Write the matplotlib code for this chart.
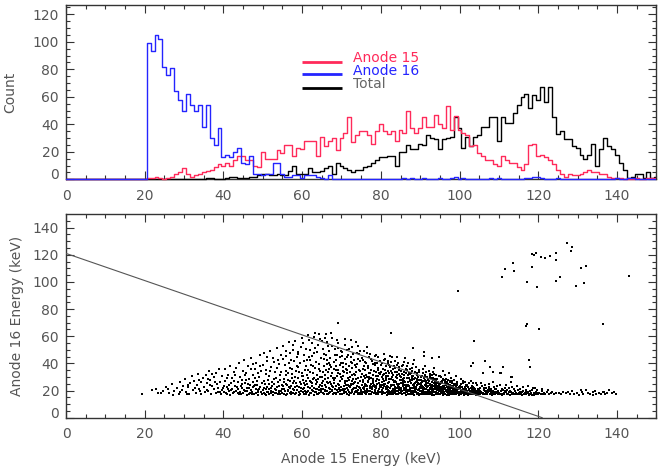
import numpy as np
import matplotlib
matplotlib.use("Agg")
import matplotlib.pyplot as plt
from matplotlib.patches import Rectangle
from matplotlib.transforms import ScaledTranslation

# ---- histogram (1 keV bins, centred on integer energies) ----
energy_bins = np.arange(0, 151)

counts_anode15 = [0] * 20 + [
    0, 1, 1, 2, 1, 0, 1, 2, 4, 5,
    8, 4, 2, 3, 4, 5, 6, 7, 9, 11,
    10, 12, 10, 14, 17, 17, 14, 14, 10, 9,
    20, 15, 15, 15, 21, 19, 25, 25, 17, 23,
    22, 28, 28, 28, 17, 31, 24, 28, 30, 21,
    30, 34, 45, 27, 32, 35, 35, 32, 26, 35,
    40, 35, 33, 35, 28, 36, 34, 50, 37, 34,
    37, 45, 38, 38, 47, 40, 37, 53, 36, 46,
    36, 34, 32, 24, 25, 19, 17, 14, 14, 11,
    10, 17, 14, 12, 12, 9, 7, 11, 25, 26,
    17, 18, 16, 14, 11, 7, 4, 2, 4, 3,
    3, 4, 5, 7, 5, 5, 4, 4, 2, 1,
    1, 1, 0, 0, 0, 1, 0, 0, 1, 1,
    1]

counts_anode16 = [0] * 20 + [
    0, 99, 93, 105, 102, 82, 76, 81, 64, 58,
    50, 62, 54, 50, 54, 38, 54, 30, 25, 37,
    16, 18, 16, 20, 23, 12, 11, 17, 4, 4,
    3, 4, 4, 12, 12, 4, 2, 2, 3, 3,
    1, 3, 3, 3, 2, 1, 0, 3, 0, 0,
    0, 0, 0, 0, 0, 0, 0, 0, 0, 0,
    0, 0, 0, 0, 0, 0, 1, 0, 1, 0,
    0, 1, 0, 0, 0, 1, 0, 0, 1, 2,
    0, 1, 0, 0, 0, 0, 0, 0, 1, 0,
    1, 0, 0, 0, 0, 0, 0, 1, 1, 2,
    2, 1, 0, 0, 0, 1, 0, 0, 0, 0,
    0, 0, 0, 0, 0, 0, 0, 0, 0, 0,
    1, 0, 0, 1, 1, 0, 0, 0, 0, 0,
    0]

counts_total = [0] * 20 + [
    0, 0, 0, 0, 0, 0, 0, 0, 0, 0,
    0, 0, 0, 0, 0, 0, 1, 1, 0, 0,
    0, 1, 2, 2, 1, 1, 1, 2, 2, 3,
    4, 4, 3, 3, 4, 3, 3, 6, 10, 4,
    4, 4, 8, 5, 5, 6, 8, 10, 4, 12,
    10, 8, 7, 5, 7, 7, 9, 10, 12, 14,
    16, 16, 17, 17, 10, 20, 20, 25, 22, 22,
    26, 25, 32, 30, 29, 22, 29, 30, 31, 45,
    37, 23, 31, 24, 31, 32, 38, 38, 45, 45,
    28, 45, 41, 41, 48, 54, 60, 62, 52, 61,
    58, 67, 56, 67, 45, 33, 35, 29, 29, 24,
    23, 18, 15, 18, 26, 10, 22, 30, 24, 22,
    18, 12, 7, 1, 2, 4, 4, 1, 5, 1,
    2]

legend_labels = ["Anode 15", "Anode 16", "Total"]
colour_15 = "#ff2a5a"
colour_16 = "#2424ff"
colour_tot = "#000000"

# ---- scatter: (anode 15 energy, anode 16 energy) in keV ----
cloud_pts = [
    (19.2,17.5),(21.8,20.6),(22.9,21.0),(24.1,18.4),(24.6,19.8),(23.3,17.9),
    (25.4,22.3),(26.2,18.1),(26.9,24.6),(27.5,19.7),(28.1,21.9),(28.6,17.4),(29.0,26.3),(29.4,20.5),
    (29.8,23.4),(27.2,17.0),(25.9,20.9),(28.9,18.8),
    (30.2,28.7),(30.5,19.2),(30.9,22.6),(31.3,17.8),(31.6,25.9),(32.0,30.4),(32.2,20.7),(32.6,27.2),
    (33.0,18.3),(33.3,23.8),(33.5,31.9),(33.9,21.3),(34.2,17.1),(34.4,26.5),(34.8,29.6),(31.1,24.0),
    (32.9,22.1),(34.0,19.6),(30.7,17.5),(33.7,28.0),
    (35.1,22.9),(35.3,18.6),(35.6,31.4),(35.9,25.3),(36.2,19.9),(36.4,34.1),(36.7,27.8),(36.9,17.3),
    (37.2,23.5),(37.5,20.8),(37.7,29.9),(38.0,18.1),(38.2,33.2),(38.4,24.7),(38.7,21.6),(38.9,36.0),
    (39.2,26.4),(39.4,17.6),(39.6,30.8),(39.9,22.2),(35.8,20.4),(36.6,24.1),(37.9,26.0),(38.5,19.3),
    (39.1,18.9),(37.0,32.4),(39.7,20.1),(36.0,28.5),
    (40.1,19.0),(40.3,27.1),(40.5,35.7),(40.8,22.5),(41.0,17.4),(41.2,31.2),(41.5,24.3),(41.7,38.1),
    (41.9,20.6),(42.2,28.9),(42.4,17.9),(42.6,33.8),(42.9,23.1),(43.1,19.5),(43.3,36.9),(43.6,26.2),
    (43.8,21.4),(44.0,40.2),(44.3,30.1),(44.5,17.2),(44.7,24.9),(44.9,34.6),(40.6,18.4),(41.4,20.0),
    (42.0,25.6),(42.8,18.8),(43.4,22.9),(44.1,19.1),(44.6,27.7),(40.9,29.6),(41.8,16.9),(43.0,31.5),
    (43.9,17.8),(44.8,21.8),(42.3,20.9),(40.2,23.7),(41.1,21.2),(43.7,18.3),(44.4,23.3),(42.7,26.8),
    (45.0,18.2),(45.2,42.3),(45.4,25.4),(45.6,19.6),(45.8,33.0),(46.0,21.7),(46.2,38.4),(46.4,17.5),
    (46.6,28.3),(46.8,23.9),(47.0,44.1),(47.2,19.0),(47.4,31.7),(47.6,26.6),(47.8,17.1),(48.0,36.2),
    (48.2,21.0),(48.4,40.5),(48.6,24.4),(48.8,18.6),(49.0,29.8),(49.2,46.2),(49.4,22.6),(49.6,34.4),
    (49.8,17.7),(45.3,20.3),(45.9,17.0),(46.5,22.1),(47.1,20.5),(47.7,23.0),(48.3,18.0),(48.9,20.2),
    (49.5,19.1),(45.7,27.6),(46.9,35.8),(47.9,29.1),(48.7,32.6),(49.9,25.5),(46.1,19.4),(47.3,17.8),
    (48.1,24.0),(49.1,21.5),(45.5,31.3),(46.7,18.4),(47.5,22.8),(48.5,27.2),(49.3,38.0),(46.3,24.6),
    (48.9,16.9),(47.6,39.5),
    (50.1,20.4),(50.3,47.7),(50.4,27.3),(50.6,17.6),(50.8,35.1),(51.0,22.9),(51.1,41.8),(51.3,18.9),
    (51.5,30.6),(51.7,25.0),(51.8,49.3),(52.0,19.7),(52.2,37.4),(52.4,23.2),(52.5,16.8),(52.7,44.0),
    (52.9,28.5),(53.1,21.1),(53.2,33.9),(53.4,18.1),(53.6,51.2),(53.8,26.1),(54.0,39.6),(54.1,20.0),
    (54.3,31.8),(54.5,17.3),(54.7,46.4),(54.8,24.2),(50.2,18.3),(50.7,21.5),(51.2,19.0),(51.6,17.2),
    (52.1,22.0),(52.6,19.2),(53.0,17.9),(53.5,22.5),(54.2,18.7),(54.9,20.8),(50.5,24.8),(51.4,28.0),
    (52.3,26.3),(53.3,29.4),(54.4,27.5),(50.9,31.9),(51.9,34.3),(52.8,40.7),(53.7,36.5),(54.6,33.4),
    (50.0,38.9),(51.0,44.8),(53.9,42.3),(52.2,18.0),(53.3,20.6),(54.0,23.7),(50.8,16.9),(51.7,21.3),
    (52.9,24.5),(53.8,17.5),(54.6,19.4),(50.4,22.2),
    (55.0,18.5),(55.2,53.0),(55.3,28.7),(55.5,21.2),(55.7,39.1),(55.8,17.0),(56.0,45.3),(56.2,24.1),
    (56.3,32.9),(56.5,19.4),(56.7,55.6),(56.8,27.0),(57.0,21.8),(57.2,42.2),(57.3,17.7),(57.5,35.6),
    (57.7,25.7),(57.8,49.9),(58.0,20.1),(58.2,30.3),(58.3,56.8),(58.5,18.2),(58.7,38.0),(58.8,23.4),
    (59.0,46.9),(59.2,16.9),(59.3,33.3),(59.5,26.4),(59.7,52.4),(59.8,19.8),(55.1,23.3),(55.6,19.9),
    (56.1,17.4),(56.6,22.4),(57.1,19.1),(57.6,18.0),(58.1,22.9),(58.6,20.5),(59.1,18.8),(59.6,21.6),
    (55.4,26.0),(55.9,31.1),(56.4,28.1),(56.9,36.8),(57.4,29.6),(57.9,26.9),(58.4,34.7),(58.9,28.9),
    (59.4,40.4),(59.9,30.7),(55.2,43.4),(56.0,49.0),(57.0,47.5),(58.0,41.6),(59.0,37.1),(55.8,34.2),
    (56.7,40.0),(57.8,53.8),(58.7,44.6),(59.6,24.7),(55.5,17.5),(56.3,20.3),(57.2,23.6),(58.2,17.3),
    (59.3,22.3),(55.9,24.8),(56.9,17.9),(57.7,21.0),(58.5,25.3),(59.4,17.7),(57.4,32.0),(58.9,48.3),
    (60.0,58.9),(60.1,19.0),(60.3,27.8),(60.4,41.9),(60.6,22.2),(60.7,35.3),(60.9,17.2),(61.0,50.6),
    (61.2,24.6),(61.3,31.4),(61.5,61.0),(61.6,20.0),(61.8,44.7),(61.9,27.3),(62.1,18.1),(62.2,38.6),
    (62.4,55.1),(62.5,23.1),(62.7,33.0),(62.8,19.6),(63.0,47.3),(63.1,29.2),(63.3,62.3),(63.4,21.5),
    (63.6,40.9),(63.7,17.4),(63.9,26.0),(64.0,53.2),(64.2,35.9),(64.3,20.4),(64.5,58.0),(64.6,24.0),
    (64.8,43.8),(64.9,18.6),(60.2,21.0),(60.5,17.8),(60.8,24.4),(61.1,18.4),(61.4,22.7),(61.7,17.0),
    (62.0,21.9),(62.3,17.9),(62.6,25.9),(62.9,22.1),(63.2,18.7),(63.5,24.5),(63.8,20.8),(64.1,17.6),
    (64.4,22.9),(64.7,19.9),(60.3,30.9),(60.9,38.3),(61.5,29.5),(62.1,33.7),(62.7,28.4),(63.3,36.6),
    (63.9,31.2),(64.5,30.0),(60.6,46.5),(61.2,42.4),(61.9,49.8),(62.5,45.6),(63.2,51.4),(63.8,48.6),
    (64.4,39.5),(60.1,55.0),(61.8,57.3),(63.0,59.6),(64.2,62.0),(60.4,25.2),(61.0,27.1),(61.6,35.0),
    (62.2,26.5),(62.8,37.8),(63.4,27.6),(64.0,28.7),(64.6,34.1),(60.7,19.6),(61.3,18.9),(62.4,20.7),
    (63.1,16.9),(63.6,19.3),(64.3,18.0),(64.9,21.4),(62.0,42.8),(60.0,33.2),
    (65.0,23.6),(65.1,56.4),(65.3,18.3),(65.4,33.5),(65.6,47.0),(65.7,20.6),(65.9,28.6),(66.0,61.5),
    (66.2,39.2),(66.3,17.5),(66.5,25.7),(66.6,52.6),(66.8,21.9),(66.9,36.2),(67.1,44.0),(67.2,19.1),
    (67.4,30.5),(67.5,58.7),(67.7,23.7),(67.8,17.1),(68.0,41.0),(68.1,27.9),(68.3,50.4),(68.4,20.9),
    (68.6,34.8),(68.7,18.5),(68.9,45.9),(69.0,25.0),(69.2,55.2),(69.3,22.0),(69.5,38.7),(69.6,17.8),
    (69.8,29.7),(69.9,48.8),(65.2,21.1),(65.5,17.7),(65.8,19.9),(66.1,22.8),(66.4,19.4),(66.7,17.3),
    (67.0,21.2),(67.3,24.6),(67.6,19.8),(67.9,22.3),(68.2,18.0),(68.5,23.2),(68.8,20.1),(69.1,18.9),
    (69.4,21.5),(69.7,19.6),(65.3,27.0),(65.9,31.8),(66.5,29.3),(67.1,26.6),(67.7,32.7),(68.3,28.9),
    (68.9,31.0),(69.5,27.2),(65.6,37.9),(66.2,42.7),(66.8,40.3),(67.4,37.0),(68.0,35.6),(68.6,42.2),
    (69.2,35.0),(69.8,40.1),(65.4,50.8),(66.0,46.1),(66.9,49.3),(67.6,53.1),(68.3,46.5),(69.1,51.0),
    (69.7,44.6),(65.8,59.0),(67.3,62.1),(68.8,57.6),(66.4,55.5),(65.1,25.4),(65.7,24.3),(66.3,26.1),
    (66.9,18.2),(67.5,20.4),(68.1,25.9),(68.7,17.4),(69.3,24.0),(69.9,20.7),(65.0,30.2),(66.6,33.9),
    (67.8,29.5),(69.0,33.1),(65.5,43.3),(67.0,38.9),(68.5,38.2),(69.6,32.4),(66.1,35.5),
    (70.0,22.4),(70.1,48.1),(70.2,17.6),(70.4,31.0),(70.5,40.2),(70.6,19.8),(70.8,26.7),(70.9,53.6),
    (71.0,21.0),(71.2,36.1),(71.3,17.2),(71.4,44.5),(71.6,24.2),(71.7,29.4),(71.8,19.3),(72.0,50.9),
    (72.1,22.8),(72.2,34.0),(72.4,18.0),(72.5,41.3),(72.6,27.1),(72.8,20.5),(72.9,47.0),(73.0,24.9),
    (73.2,32.2),(73.3,17.4),(73.4,38.5),(73.6,21.7),(73.7,55.8),(73.8,28.8),(74.0,19.1),(74.1,43.6),
    (74.2,25.3),(74.4,35.4),(74.5,18.4),(74.6,49.4),(74.8,22.1),(74.9,30.3),(70.3,20.6),(70.7,23.5),
    (71.1,18.6),(71.5,21.8),(71.9,17.0),(72.3,24.6),(72.7,19.0),(73.1,22.0),(73.5,18.8),(73.9,23.3),
    (74.3,20.2),(74.7,17.7),(70.2,28.3),(70.6,33.6),(71.0,25.6),(71.4,32.7),(71.8,27.8),(72.2,29.9),
    (72.6,36.9),(73.0,28.2),(73.4,26.0),(73.8,33.5),(74.2,29.0),(74.6,27.4),(70.4,37.5),(70.8,43.1),
    (71.2,39.8),(71.6,46.0),(72.0,38.0),(72.4,44.4),(72.8,40.6),(73.2,42.8),(73.6,37.2),(74.0,39.3),
    (74.4,46.7),(74.8,41.7),(70.1,45.7),(71.3,50.0),(72.6,52.3),(73.9,47.8),(70.9,58.3),(72.3,56.9),
    (74.3,52.6),(70.5,21.5),(71.1,24.0),(71.7,20.3),(72.1,18.5),(72.9,21.3),(73.3,25.6),(73.7,19.6),
    (74.1,17.3),(74.9,19.9),(70.7,17.9),(71.9,23.0),(73.1,17.8),(74.5,22.7),(70.3,34.7),(71.5,35.3),
    (72.7,31.6),(73.5,31.1),(74.7,34.2),(71.3,27.0),(72.5,23.8),
    (75.0,20.3),(75.1,44.2),(75.2,17.5),(75.4,28.0),(75.5,35.7),(75.6,22.6),(75.8,18.9),(75.9,41.0),
    (76.0,25.1),(76.2,31.4),(76.3,17.1),(76.4,47.6),(76.6,21.4),(76.7,37.8),(76.8,27.3),(77.0,19.4),
    (77.1,33.1),(77.2,23.7),(77.4,43.0),(77.5,17.8),(77.6,29.6),(77.8,20.9),(77.9,39.2),(78.0,25.8),
    (78.2,18.2),(78.3,34.4),(78.4,45.4),(78.6,22.3),(78.7,30.7),(78.8,17.3),(79.0,40.6),(79.1,24.6),
    (79.2,19.8),(79.4,36.3),(79.5,27.9),(79.6,21.2),(79.8,42.1),(79.9,31.9),(75.3,19.3),(75.7,21.0),
    (76.1,18.1),(76.5,23.2),(76.9,17.6),(77.3,21.8),(77.7,18.6),(78.1,23.0),(78.5,19.0),(78.9,21.6),
    (79.3,17.4),(79.7,22.8),(75.1,24.4),(75.5,26.6),(75.9,29.1),(76.3,24.0),(76.7,26.1),(77.1,28.4),
    (77.5,25.0),(77.9,27.1),(78.3,24.3),(78.7,26.8),(79.1,28.8),(79.5,25.4),(79.9,23.9),(75.2,32.3),
    (75.6,38.3),(76.0,34.8),(76.4,30.0),(76.8,36.6),(77.2,32.9),(77.6,35.2),(78.0,31.3),(78.4,38.6),
    (78.8,33.8),(79.2,35.1),(79.6,32.7),(75.4,42.5),(76.2,40.1),(77.0,44.7),(77.8,41.7),(78.6,40.0),
    (79.4,44.9),(75.8,48.9),(77.3,47.2),(78.9,46.3),(76.6,52.0),(75.0,17.9),(75.4,22.0),(76.0,20.0),
    (76.6,18.7),(77.2,19.6),(77.8,22.5),(78.4,20.4),(79.0,18.4),(79.6,19.1),(75.7,30.6),(76.9,29.8),
    (78.1,28.2),(79.3,30.4),(76.4,19.5),(77.6,17.2),(78.8,23.5),(75.9,23.6),(77.4,24.8),
    (80.0,19.2),(80.1,38.9),(80.2,24.0),(80.3,17.4),(80.5,31.2),(80.6,21.6),(80.7,42.6),(80.9,27.0),
    (81.0,18.3),(81.1,35.5),(81.3,22.9),(81.4,29.3),(81.5,17.0),(81.7,40.1),(81.8,25.6),(81.9,20.2),
    (82.1,33.0),(82.2,18.8),(82.3,37.3),(82.5,23.4),(82.6,28.6),(82.7,17.7),(82.9,44.4),(83.0,21.0),
    (83.1,31.8),(83.3,26.2),(83.4,18.0),(83.5,36.5),(83.7,22.6),(83.8,29.9),(83.9,19.7),(84.1,39.0),
    (84.2,24.5),(84.3,17.3),(84.5,32.4),(84.6,21.3),(84.7,35.0),(84.9,27.6),(80.4,20.7),(80.8,18.0),
    (81.2,20.9),(81.6,23.1),(82.0,19.5),(82.4,21.8),(82.8,20.0),(83.2,17.6),(83.6,19.1),(84.0,22.0),
    (84.4,19.9),(84.8,17.9),(80.2,26.4),(80.6,28.8),(81.0,24.8),(81.4,27.7),(81.8,30.6),(82.2,26.0),
    (82.6,24.2),(83.0,28.0),(83.4,24.0),(83.8,26.5),(84.2,29.2),(84.6,25.0),(80.1,33.6),(80.5,36.0),
    (80.9,32.1),(81.3,37.8),(81.7,34.2),(82.1,38.5),(82.5,34.7),(82.9,32.8),(83.3,38.1),(83.7,33.4),
    (84.1,34.0),(84.5,37.4),(80.3,40.4),(81.1,43.3),(81.9,41.9),(82.7,40.7),(83.5,42.0),(84.3,40.0),
    (80.8,46.7),(82.4,45.2),(84.0,45.0),(80.0,22.3),(80.4,17.1),(80.9,23.5),(81.5,19.0),(81.9,22.4),
    (82.3,17.5),(82.9,23.8),(83.3,20.6),(83.9,17.1),(84.4,23.6),(84.9,20.3),(80.7,25.1),(81.6,21.5),
    (82.5,19.0),(83.5,21.2),(84.7,18.5),(81.2,30.9),(82.8,30.1),(84.2,31.3),(80.6,18.6),(81.8,17.8),
    (83.1,18.7),(84.6,22.8),(82.0,28.2),(83.6,27.2),(80.3,29.7),(81.4,33.1),(83.0,35.8),(84.8,30.6),
    (85.0,18.4),(85.1,34.7),(85.2,22.2),(85.3,28.1),(85.5,17.2),(85.6,38.6),(85.7,24.9),(85.8,20.4),
    (86.0,31.6),(86.1,17.9),(86.2,26.3),(86.4,35.9),(86.5,21.4),(86.6,18.8),(86.7,29.5),(86.9,23.5),
    (87.0,40.4),(87.1,19.6),(87.2,33.1),(87.4,17.5),(87.5,26.8),(87.6,22.0),(87.8,30.5),(87.9,18.3),
    (88.0,36.7),(88.1,24.1),(88.3,20.0),(88.4,28.4),(88.5,17.0),(88.6,33.9),(88.8,22.6),(88.9,26.0),
    (89.0,19.0),(89.2,31.1),(89.3,23.8),(89.4,17.6),(89.6,35.2),(89.7,21.0),(89.8,27.9),(89.9,19.4),
    (85.4,19.8),(85.9,21.8),(86.3,19.2),(86.8,17.3),(87.3,20.7),(87.7,18.0),(88.2,22.1),(88.7,19.5),
    (89.1,17.8),(89.5,20.2),(85.2,25.7),(85.6,23.3),(86.0,27.4),(86.4,24.4),(86.8,26.0),(87.2,23.0),
    (87.6,25.4),(88.0,27.5),(88.4,23.7),(88.8,25.2),(89.2,27.0),(89.6,24.6),(85.1,30.2),(85.5,32.0),
    (85.9,29.0),(86.3,32.8),(86.7,35.1),(87.1,28.9),(87.5,31.9),(87.9,34.4),(88.3,30.8),(88.7,29.3),
    (89.1,32.9),(89.5,30.0),(85.3,37.8),(85.8,41.2),(86.6,38.1),(87.3,36.0),(88.1,39.4),(88.9,37.0),
    (89.7,33.6),(86.2,44.1),(88.4,42.6),(85.0,21.0),(85.4,17.7),(85.8,23.9),(86.1,20.6),(86.5,16.9),
    (86.9,20.1),(87.4,21.9),(87.8,17.4),(88.2,18.6),(88.6,21.2),(89.0,22.8),(89.4,18.2),(89.8,16.9),
    (85.7,28.6),(86.9,31.2),(88.0,29.6),(89.3,28.7),(85.2,19.1),(86.4,22.7),(87.7,19.9),(88.9,20.8),
    (86.0,18.1),(87.0,24.3),(88.5,24.8),(89.9,22.5),(85.6,26.6),(87.4,27.7),(89.0,26.1),(86.7,20.3),
    (88.3,17.2),(85.9,34.0),(87.6,33.2),(89.4,25.8),(88.8,18.9),
    (90.0,17.5),(90.1,29.8),(90.2,22.0),(90.3,25.6),(90.5,18.6),(90.6,33.0),(90.7,20.7),(90.8,27.3),
    (91.0,17.1),(91.1,23.8),(91.2,31.4),(91.4,19.3),(91.5,26.2),(91.6,21.5),(91.8,17.7),(91.9,28.6),
    (92.0,23.1),(92.1,19.9),(92.3,34.6),(92.4,25.0),(92.5,17.3),(92.6,21.9),(92.8,29.1),(92.9,18.5),
    (93.0,24.3),(93.2,20.4),(93.3,27.6),(93.4,17.0),(93.5,31.9),(93.7,22.7),(93.8,19.0),(93.9,26.4),
    (94.1,17.9),(94.2,23.4),(94.3,20.1),(94.4,28.3),(94.6,18.2),(94.7,24.8),(94.8,21.2),(94.9,30.6),
    (90.4,20.0),(90.9,18.1),(91.3,20.9),(91.7,18.9),(92.2,20.6),(92.7,17.6),(93.1,18.8),(93.6,20.9),
    (94.0,19.2),(94.5,17.2),(90.2,24.2),(90.6,22.9),(91.0,26.9),(91.4,24.5),(91.8,22.4),(92.2,26.8),
    (92.6,24.1),(93.0,22.2),(93.4,25.2),(93.8,23.9),(94.2,21.9),(94.6,26.1),(90.1,28.0),(90.5,31.0),
    (90.9,29.3),(91.3,28.1),(91.7,30.2),(92.1,27.7),(92.5,30.4),(92.9,26.1),(93.3,29.5),(93.7,28.4),
    (94.1,27.0),(94.5,25.8),(90.7,35.9),(91.6,33.8),(92.4,32.2),(93.2,33.4),(94.0,31.6),(91.1,38.4),
    (93.6,36.8),(90.0,19.6),(90.3,17.8),(90.8,21.4),(91.2,18.3),(91.5,17.4),(91.9,20.3),(92.3,18.1),
    (92.8,21.1),(93.1,16.9),(93.5,18.6),(93.9,21.5),(94.3,18.4),(94.7,19.7),(90.4,23.0),(91.0,21.7),
    (91.6,23.7),(92.0,25.9),(92.7,23.4),(93.2,23.6),(93.9,24.7),(94.4,23.1),(94.9,22.6),(90.5,26.5),
    (91.4,27.1),(92.4,28.9),(93.7,26.9),(94.8,24.0),(90.9,19.0),(92.0,17.8),(93.3,19.5),(94.6,20.5),
    (91.8,25.3),(93.0,20.0),(94.2,25.5),(90.6,17.2),(92.6,19.3),(94.0,17.5),(91.3,30.7),(92.9,31.2),
    (95.0,17.4),(95.1,24.6),(95.2,20.3),(95.4,18.1),(95.5,27.2),(95.6,21.7),(95.8,17.0),(95.9,23.4),
    (96.0,19.2),(96.2,25.9),(96.3,17.6),(96.4,21.0),(96.6,28.8),(96.7,18.8),(96.8,22.7),(97.0,17.3),
    (97.1,24.9),(97.2,20.0),(97.4,18.4),(97.5,26.6),(97.6,21.8),(97.8,17.8),(97.9,23.0),(98.0,19.5),
    (98.2,25.3),(98.3,17.1),(98.4,21.3),(98.6,18.2),(98.7,23.9),(98.8,20.6),(99.0,17.5),(99.1,22.3),
    (99.2,19.0),(99.4,24.4),(99.5,17.9),(99.6,20.8),(99.8,18.5),(99.9,22.9),(95.3,19.0),(95.7,22.4),
    (96.1,18.0),(96.5,20.1),(96.9,19.8),(97.3,22.2),(97.7,19.3),(98.1,21.9),(98.5,19.9),(98.9,17.4),
    (99.3,20.2),(99.7,19.3),(95.2,22.9),(95.6,25.6),(96.0,23.7),(96.4,26.8),(96.8,24.5),(97.2,23.2),
    (97.6,24.0),(98.0,26.9),(98.4,22.8),(98.8,24.7),(99.2,23.5),(99.6,21.5),(95.4,29.9),(96.2,31.3),
    (97.0,28.1),(97.8,29.0),(98.6,27.5),(99.4,26.0),(95.8,34.5),(97.4,32.6),(99.0,30.4),(95.0,21.2),
    (95.5,18.7),(95.9,20.6),(96.3,22.1),(96.7,16.9),(97.1,18.6),(97.5,20.4),(97.9,18.3),(98.3,20.0),
    (98.7,17.9),(99.1,18.8),(99.5,21.6),(99.9,17.3),(95.3,26.2),(96.1,27.7),(96.9,26.3),(97.7,27.0),
    (98.5,25.0),(99.3,25.4),(95.7,17.2),(96.6,19.6),(97.3,17.0),(98.2,18.9),(99.0,20.9),(99.8,16.9),
    (96.0,21.3),(97.0,21.4),(98.1,23.5),(99.2,21.1),(95.1,30.8),(96.5,24.1),(98.9,22.2),(97.6,17.6),
    (99.6,18.2),(95.9,28.5),(98.4,19.1),
    (100.0,17.2),(100.1,21.9),(100.3,19.1),(100.4,24.5),(100.5,17.7),(100.7,20.4),(100.8,18.4),
    (100.9,26.7),(101.1,19.7),(101.2,17.0),(101.3,22.6),(101.5,18.8),(101.6,20.9),(101.7,17.5),
    (101.9,23.4),(102.0,19.3),(102.1,17.9),(102.3,21.2),(102.4,18.2),(102.5,25.2),(102.7,19.9),
    (102.8,17.3),(102.9,21.7),(103.1,18.6),(103.2,20.2),(103.3,17.1),(103.5,22.9),(103.6,18.0),
    (103.7,19.5),(103.9,17.6),(104.0,21.4),(104.1,18.7),(104.3,16.9),(104.4,20.0),(104.5,23.8),
    (104.7,17.8),(104.8,19.2),(104.9,18.1),(100.2,18.6),(100.6,22.8),(101.0,18.0),(101.4,20.1),
    (101.8,18.5),(102.2,22.3),(102.6,17.6),(103.0,19.1),(103.4,21.0),(103.8,18.4),(104.2,19.9),
    (104.6,17.4),(100.0,23.5),(100.9,21.1),(101.6,24.1),(102.4,20.5),(103.1,23.0),(103.9,20.4),
    (104.7,21.3),(100.5,28.3),(101.4,26.0),(102.9,27.4),(104.2,25.6),(100.3,20.7),(101.1,17.3),
    (101.9,19.6),(102.7,18.5),(103.5,17.7),(104.3,18.3),(100.7,19.3),(101.5,21.8),(102.2,17.0),
    (103.7,22.2),(104.9,20.6),(100.8,25.5),(102.0,24.4),(103.3,25.9),
    (105.0,18.8),(105.2,17.4),(105.3,21.6),(105.5,19.3),(105.7,17.9),(105.8,23.2),(106.0,18.4),
    (106.2,20.3),(106.3,17.1),(106.5,19.7),(106.7,22.0),(106.8,18.0),(107.0,17.5),(107.2,20.6),
    (107.3,18.7),(107.5,24.8),(107.7,17.7),(107.8,19.4),(108.0,21.3),(108.2,18.2),(108.3,17.0),
    (108.5,19.9),(108.7,18.5),(108.8,22.5),(109.0,17.3),(109.2,19.0),(109.3,20.8),(109.5,18.0),
    (109.7,17.6),(109.8,19.6),(105.1,20.0),(105.6,18.1),(106.1,21.9),(106.6,17.8),(107.1,19.0),
    (107.6,21.1),(108.1,19.5),(108.6,17.4),(109.1,21.5),(109.6,18.6),(105.4,25.9),(106.4,24.0),
    (107.4,22.9),(108.4,26.3),(109.4,23.0),(105.9,17.2),(106.9,19.9),(107.9,17.9),(108.9,18.9),
    (109.9,17.4),
    (110.0,18.3),(110.2,17.2),(110.5,19.5),(110.7,17.8),(110.9,21.2),(111.2,18.0),(111.4,17.1),
    (111.6,19.8),(111.9,18.6),(112.1,20.7),(112.3,17.5),(112.6,18.9),(112.8,17.0),(113.0,19.2),
    (113.3,22.3),(113.5,17.7),(113.7,18.4),(114.0,17.3),(114.2,19.6),(114.4,18.1),(114.7,17.6),
    (114.9,20.1),(110.3,23.8),(111.0,20.4),(111.8,24.3),(112.5,21.6),(113.1,26.5),(113.9,21.0),
    (114.6,23.1),(110.8,16.9),(112.0,17.8),(113.4,17.1),(114.3,17.9),(111.5,22.0),(112.9,19.6),
    (115.0,18.0),(115.2,17.3),(115.4,19.1),(115.6,17.7),(115.8,18.6),(116.0,17.0),(116.2,19.8),
    (116.4,17.5),(116.6,18.3),(116.8,17.1),(117.0,20.5),(117.2,17.9),(117.4,18.8),(117.6,17.2),
    (117.8,19.4),(118.0,17.6),(118.2,18.2),(118.4,17.0),(118.6,21.8),(118.8,17.8),(119.0,18.5),
    (119.2,17.3),(119.4,19.0),(119.6,17.7),(119.8,18.1),(115.3,20.9),(116.1,22.4),(116.9,20.0),
    (117.5,23.6),(118.3,20.3),(119.1,22.0),(119.7,20.6),(115.9,16.9),(117.7,17.0),(118.9,16.9),
    (120.0,17.4),(120.3,18.3),(120.6,17.2),(120.9,19.5),(121.2,17.6),(121.5,18.0),(121.8,17.1),
    (122.1,18.6),(122.5,20.7),(122.8,17.5),(123.2,18.2),(123.6,19.3),(124.1,17.8),(124.6,18.5),
    (121.0,21.3),
    (125.3,18.4),(125.9,17.5),(126.4,19.1),(127.0,17.9),(127.6,18.6),(128.1,17.2),(128.7,19.4),
    (129.2,17.8),(129.8,18.3),(130.4,17.0),(131.0,18.9),(131.5,17.6),(132.1,20.2),(132.6,18.0),
    (133.2,17.4),(133.8,18.7),(134.3,19.8),(134.8,17.7),(135.4,18.2),(135.9,17.1),(136.5,19.0),
    (137.0,17.5),(137.6,18.4),(138.1,20.4),(138.7,17.9),(139.3,18.8),(139.8,17.3),(130.9,20.7),
    (134.0,17.0),(136.8,18.9),
]

stray_pts = [
    (69.1,69.8),(82.7,62.4),(88.1,51.7),(90.9,48.3),(90.9,45.8),(92.9,44.3),(94.9,44.6),
    (103.8,56.2),(103.4,40.2),(103.0,38.2),(105.9,32.8),(108.5,33.3),(110.6,32.8),(113.1,29.9),
    (106.5,42.1),(107.8,37.0),(108.6,34.0),(110.4,32.8),(111.0,37.7),(113.3,30.1),
    (117.6,42.4),(118.0,37.0),(99.5,93.6),
    (116.9,67.3),(117.1,69.3),(120.2,65.6),(136.4,69.0),
    (110.8,103.8),(111.6,109.2),(113.5,114.1),(113.8,108.4),(117.1,100.3),(118.4,120.5),
    (118.9,120.0),(119.5,121.5),(118.4,110.9),(119.6,95.9),(120.6,118.3),(121.7,117.3),
    (123.0,119.0),(124.5,121.0),(124.4,115.8),(124.5,100.5),(125.5,103.3),(127.3,128.9),
    (128.5,125.4),(128.4,122.7),(129.6,96.8),(130.9,110.6),(132.1,111.4),(131.7,99.3),
    (143.1,104.7),
]

# kinematic limit drawn on the scatter: E15 + E16 = sum_energy
sum_energy = 121.0

all_pts = np.array(cloud_pts + stray_pts)
e15 = all_pts[:, 0]
e16 = all_pts[:, 1]

# ---- figure ----
plt.rcParams["font.family"] = "DejaVu Sans"
text_grey = "#555555"

fig = plt.figure(figsize=(6.64, 4.75), dpi=100)
ax1 = fig.add_axes([0.0994, 0.6225, 0.889, 0.3676])
ax2 = fig.add_axes([0.0994, 0.1206, 0.889, 0.4288])

# let the zero level of the steps show on top of the x axis
clip_box = Rectangle((0, -0.03), 1, 1.06, transform=ax1.transAxes)
for counts, col in [(counts_total, colour_tot), (counts_anode15, colour_15),
                    (counts_anode16, colour_16)]:
    ln, = ax1.step(energy_bins, counts, where="mid", color=col, lw=1.0, zorder=3)
    ln.set_clip_path(clip_box)
ax1.set_xlim(0, 150)
ax1.set_ylim(0, 127)
ax1.set_yticks(np.arange(0, 121, 20))
ax1.set_ylabel("Count", fontsize=10, color=text_grey)
ax1.yaxis.set_label_coords(-0.083, 0.5)

# hand-made key, IDL style
key_y = [0.673, 0.601, 0.525]
for lab, col, ky in zip(legend_labels, [colour_15, colour_16, colour_tot], key_y):
    ax1.plot([0.4005, 0.468], [ky, ky], color=col, lw=2.0, transform=ax1.transAxes,
             solid_capstyle="butt")
    tcol = "#666666" if col == colour_tot else col
    ax1.text(0.486, ky + 0.022, lab, color=tcol, fontsize=10, transform=ax1.transAxes,
             va="center", ha="left")

ax2.scatter(e15, e16, s=2.2, marker="s", color="black", linewidths=0)
line_x = np.array([0.0, sum_energy])
ax2.plot(line_x, sum_energy - line_x, color="#555555", lw=0.8)
ax2.set_xlim(0, 150)
ax2.set_ylim(0, 150)
ax2.set_yticks(np.arange(0, 141, 20))
ax2.set_xlabel("Anode 15 Energy (keV)", fontsize=10, color=text_grey)
ax2.set_ylabel("Anode 16 Energy (keV)", fontsize=10, color=text_grey)
ax2.yaxis.set_label_coords(-0.072, 0.5)
ax2.xaxis.set_label_coords(0.5, -0.17)

for ax in (ax1, ax2):
    ax.set_xticks(np.arange(0, 141, 20))
    ax.set_xticks(np.arange(0, 151, 5), minor=True)
    ax.set_yticks(np.arange(0, ax.get_ylim()[1], 5), minor=True)
    ax.tick_params(which="both", direction="in", top=True, right=True,
                   colors="#333333", labelcolor=text_grey, labelsize=10)
    ax.tick_params(which="major", length=6, width=0.8)
    ax.tick_params(which="minor", length=3, width=0.8)
    ax.tick_params(axis="x", pad=7)
    ax.tick_params(axis="y", pad=5)
    for sp in ax.spines.values():
        sp.set_color("#333333")
        sp.set_linewidth(1.0)
        sp.set_zorder(1)
    # IDL lifts the bottom "0" label off the x axis
    zero_lab = ax.yaxis.get_major_ticks()[0].label1
    zero_lab.set_transform(zero_lab.get_transform()
                           + ScaledTranslation(0, 4 / 72, fig.dpi_scale_trans))

fig.savefig("out.png", dpi=100)
